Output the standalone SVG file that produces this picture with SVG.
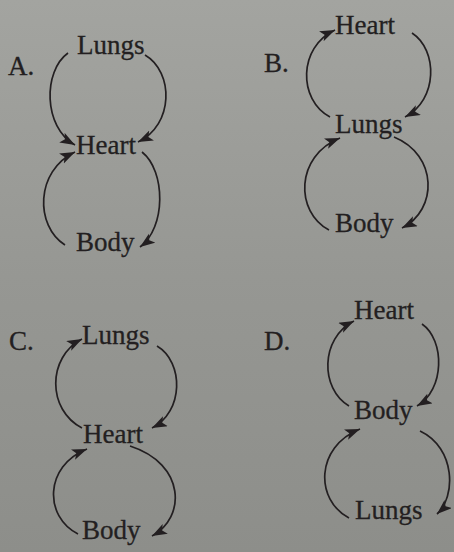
<svg xmlns="http://www.w3.org/2000/svg" width="454" height="552" viewBox="0 0 454 552">
<defs>
<linearGradient id="bg" x1="0" y1="0" x2="0" y2="1">
<stop offset="0" stop-color="#a3a4a0"/>
<stop offset="0.5" stop-color="#969793"/>
<stop offset="1" stop-color="#8d8e8a"/>
</linearGradient>
<marker id="ah" markerUnits="userSpaceOnUse" markerWidth="16" markerHeight="12" refX="15" refY="5.5" orient="auto">
<path d="M0,0 L15,5.5 L0,11 L3.5,5.5 z" fill="#231f21"/>
</marker>
<style>
text{font-family:"Liberation Serif","Times New Roman",serif;font-size:27px;fill:#231f21;stroke:#231f21;stroke-width:0.3}
.c{fill:none;stroke:#231f21;stroke-width:1.7;marker-end:url(#ah)}
</style>
</defs>
<rect width="454" height="552" fill="url(#bg)"/>
<g id="labels">
<text x="8" y="75">A.</text>
<text x="264" y="72">B.</text>
<text x="9" y="350">C.</text>
<text x="264" y="350">D.</text>
</g>
<g id="A-lungs"><text x="77" y="54">Lungs</text></g>
<g id="A-heart"><text x="76" y="154">Heart</text></g>
<g id="A-body"><text x="76" y="251">Body</text></g>
<g id="B-heart"><text x="335" y="34">Heart</text></g>
<g id="B-lungs"><text x="335" y="133">Lungs</text></g>
<g id="B-body"><text x="335" y="232">Body</text></g>
<g id="C-lungs"><text x="82" y="344">Lungs</text></g>
<g id="C-heart"><text x="83" y="443">Heart</text></g>
<g id="C-body"><text x="82" y="539">Body</text></g>
<g id="D-heart"><text x="354" y="319">Heart</text></g>
<g id="D-body"><text x="354" y="419">Body</text></g>
<g id="D-lungs"><text x="355" y="519">Lungs</text></g>
<g id="connectors">
<path class="c" d="M68,53 C43,71 43,127 75,145"/>
<path class="c" d="M145,55 C174,72 174,125 138,142"/>
<path class="c" d="M65,245 C35,226 35,171 75,152"/>
<path class="c" d="M142,152 C166,171 166,228 140,247"/>
<path class="c" d="M330,117 C298,100 298,47 335,30"/>
<path class="c" d="M412,33 C438,50 438,100 405,117"/>
<path class="c" d="M329,230 C295,212 295,156 340,138"/>
<path class="c" d="M394,137 C438,155 438,210 402,228"/>
<path class="c" d="M82,428 C47,410 47,357 82,339"/>
<path class="c" d="M157,346 C184,362 184,412 152,428"/>
<path class="c" d="M78,534 C44,517 44,466 87,449"/>
<path class="c" d="M130,446 C186,464 186,518 152,536"/>
<path class="c" d="M349,406 C320,389 320,338 354,321"/>
<path class="c" d="M422,324 C445,340 445,390 417,406"/>
<path class="c" d="M349,518 C315,500 315,447 360,429"/>
<path class="c" d="M420,431 C456,448 456,497 437,514"/>
</g>
</svg>
